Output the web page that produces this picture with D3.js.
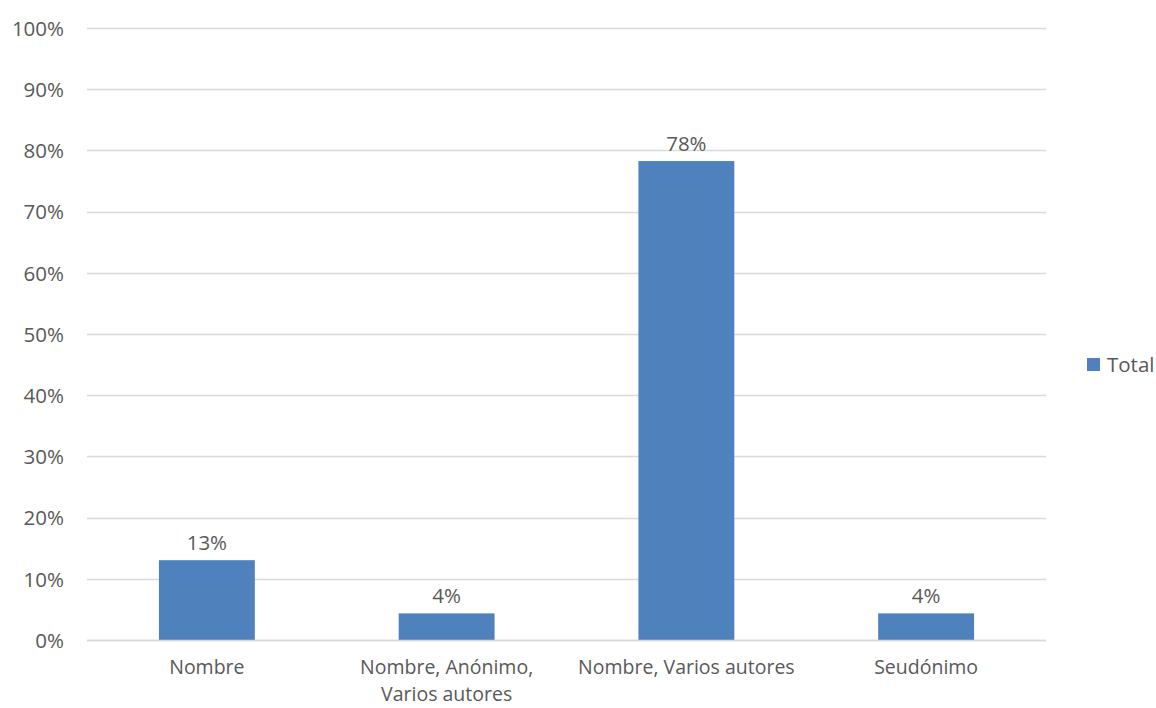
<!DOCTYPE html>
<html>
<head>
<meta charset="utf-8">
<script src="https://cdn.jsdelivr.net/npm/d3@7"></script>
<style>
  html, body { margin: 0; padding: 0; background: #ffffff; }
  svg text { font-family: "Open Sans", "Liberation Sans", sans-serif; fill: #595959; }
</style>
</head>
<body>
<svg id="chart" width="1156" height="708"></svg>
<script>
// Categories and shares (fraction of total)
const categories = ["Nombre", "Nombre, Anónimo, Varios autores", "Nombre, Varios autores", "Seudónimo"];
const categoryLines = [["Nombre"], ["Nombre, Anónimo,", "Varios autores"], ["Nombre, Varios autores"], ["Seudónimo"]];
const totals = [0.1304, 0.0435, 0.7826, 0.0435];
const yTicks = [0, 0.1, 0.2, 0.3, 0.4, 0.5, 0.6, 0.7, 0.8, 0.9, 1.0];
const seriesName = "Total";

const svg = d3.select("#chart");
const margin = { left: 87, right: 110, top: 28, bottom: 68 };
const width = 1156, height = 708;
const x0 = margin.left, x1 = width - margin.right;
const yTop = margin.top, yBot = height - margin.bottom;
const fontSize = 20.5;

const x = d3.scaleBand().domain(categories).range([x0, x1]).paddingInner(0.6).paddingOuter(0.3);
const y = d3.scaleLinear().domain([0, 1]).range([yBot, yTop]);
const fmt = d3.format(".0%");
const barColor = "#4f81bd";

// Gridlines
svg.append("g").selectAll("line").data(yTicks).join("line")
  .attr("x1", x0).attr("x2", x1)
  .attr("y1", d => Math.round(y(d)) + 0.5).attr("y2", d => Math.round(y(d)) + 0.5)
  .attr("stroke", "#d9d9d9").attr("stroke-width", 1.3);

// Y axis labels
const yAxis = d3.axisLeft(y).tickValues(yTicks).tickFormat(fmt).tickSize(0).tickPadding(0);
const yg = svg.append("g").attr("transform", `translate(${x0 - 23},0)`).call(yAxis);
yg.select(".domain").remove();
yg.selectAll("text").attr("font-size", fontSize).style("font-family", null).attr("dy", "0.36em");

// Bars
svg.append("g").selectAll("rect").data(totals).join("rect")
  .attr("x", (d, i) => x(categories[i]))
  .attr("width", x.bandwidth())
  .attr("y", d => y(d))
  .attr("height", d => yBot - y(d))
  .attr("fill", barColor);

// Baseline
svg.append("line").attr("x1", x0).attr("x2", x1)
  .attr("y1", Math.round(y(0)) + 0.5).attr("y2", Math.round(y(0)) + 0.5)
  .attr("stroke", "#d9d9d9").attr("stroke-width", 1.3);

// Value labels
svg.append("g").selectAll("text").data(totals).join("text")
  .attr("x", (d, i) => x(categories[i]) + x.bandwidth() / 2)
  .attr("y", d => y(d) - 10)
  .attr("text-anchor", "middle").attr("font-size", fontSize)
  .text(d => fmt(d));

// Category labels (each line is its own text element)
const catFont = 19.5;
const lineGap = 27;
const xl = svg.append("g");
categories.forEach((c, i) => {
  categoryLines[i].forEach((t, j) => {
    xl.append("text")
      .attr("x", x(c) + x.bandwidth() / 2)
      .attr("y", yBot + 34 + j * lineGap)
      .attr("text-anchor", "middle").attr("font-size", catFont)
      .text(t);
  });
});

// Legend
const lg = svg.append("g").attr("transform", `translate(1087,358)`);
lg.append("rect").attr("width", 13).attr("height", 13).attr("fill", barColor);
lg.append("text").attr("x", 20).attr("y", 14).attr("font-size", fontSize).text(seriesName);
</script>
</body>
</html>
